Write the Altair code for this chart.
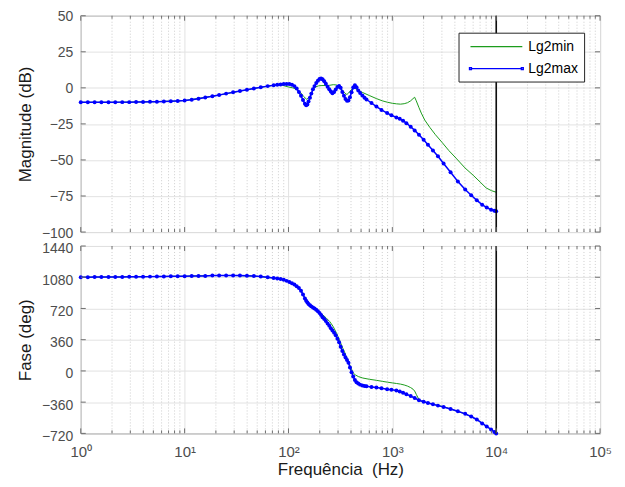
import altair as alt
import pandas as pd

# ---------------- data ----------------
freq_max = [1.00, 1.17, 1.36, 1.58, 1.85, 2.15, 2.51, 2.93, 3.41, 3.98, 4.64, 5.41, 6.31, 7.36, 8.58,
            10.0, 11.7, 13.6, 15.8, 18.5, 21.5, 25.1, 29.3, 34.1, 39.8, 46.4, 54.1, 63.1, 72.0, 78.0, 84.0, 90.0, 96.0,
            102, 108, 114, 120, 126, 132, 138, 144, 148, 152, 156, 161, 166, 172, 178, 185, 192, 199, 206, 213,
            221, 229, 238, 247, 256, 265, 275, 285, 296, 307, 318, 330, 342, 354, 366, 378, 391, 405, 420, 436,
            452, 470, 490, 515, 540,
            564, 630, 703, 786, 891, 980, 1094, 1178, 1268, 1366, 1502, 1641, 1805, 2001, 2202, 2461, 2750, 3115,
            3637, 4276, 5031, 5745, 6505, 7326, 8107, 8930, 9607, 10000]
mag_max = [-10.0, -10.0, -10.0, -10.0, -10.0, -10.0, -9.9, -9.9, -9.8, -9.8, -9.7, -9.6, -9.5, -9.3, -9.1,
           -8.8, -8.3, -7.5, -6.7, -5.8, -4.9, -4.0, -3.1, -2.2, -1.3, -0.4, 0.4, 1.2, 1.8, 2.1, 2.4, 2.6, 2.7,
           2.6, 2.2, 1.2, -0.5, -2.8, -5.5, -8.5, -11.0, -12.0, -11.5, -9.5, -6.9, -4.0, -1.0, 1.2, 3.3, 5.0, 6.2, 6.5, 6.0,
           4.5, 2.8, 0.8, -1.0, -2.5, -3.8, -2.8, -1.2, 0.6, 1.3, 0.0, -2.8, -5.5, -7.8, -9.0, -8.8, -6.5, -3.0, 0.2, 1.8,
           0.5, -1.8, -3.6, -5.3, -6.8,
           -8.1, -10.5, -13.0, -15.3, -17.5, -19.0, -20.5, -21.5, -22.8, -24.5, -27.0, -29.5, -32.5, -36.0, -39.5, -43.5,
           -47.5, -52.5, -58.5, -65.0, -70.5, -74.5, -78.0, -81.0, -83.0, -84.5, -85.2, -85.5]
phase_max = [1081, 1081, 1082, 1082, 1083, 1083, 1084, 1085, 1085, 1086, 1087, 1088, 1089, 1090, 1091,
             1092, 1093, 1094, 1095, 1099, 1100, 1101, 1100, 1099, 1097, 1094, 1089, 1080, 1071, 1066, 1060, 1050, 1038,
             1025, 1010, 995, 975, 955, 925, 880, 835, 810, 790, 772, 756, 744, 732, 720, 705, 688, 668, 645, 620,
             598, 575, 548, 520, 492, 465, 440, 410, 370, 330, 280, 230, 190, 155, 125, 95, 40, -15, -65, -105,
             -130, -145, -158, -168, -174,
             -178, -184, -192, -200, -210, -216, -225, -238, -252, -268, -290, -312, -338, -356, -370, -385, -400, -415,
             -438, -465, -495, -525, -560, -605, -640, -675, -705, -720]

freq_min = [1, 2, 5, 10, 20, 30, 50, 70, 85, 100, 110, 120, 130, 140, 150, 160, 170, 180, 195, 210,
            230, 250, 270, 290, 310, 330, 350, 365, 380, 400, 420, 440, 470, 520, 600, 700, 800, 900, 1000, 1100,
            1200, 1300, 1400, 1500, 1580, 1640, 1700, 1800, 1900, 2050, 2300, 2600, 3000, 3500, 4100, 5000, 6000,
            7000, 8000, 9000, 10000]
mag_min = [-10.0, -10.0, -9.65, -8.8, -5.4, -3.0, 0.0, 1.6, 2.0, 0.6, 0.0, -1.0, -3.0, -6.0, -8.0, -6.0, -2.5, 0.5, 1.4, 1.6,
           1.6, 1.8, 2.2, 2.0, 0.5, -1.5, -3.8, -4.6, -3.5, -1.5, -0.3, -0.5, -1.8, -3.3, -5.3, -7.4, -9.0, -10.0, -10.7, -11.1,
           -11.3, -11.0, -10.3, -9.0, -7.5, -6.5, -9.0, -13.5, -17.5, -22.3, -27.5, -32.5, -37.7, -43.5, -48.7, -55.5, -60.6,
           -65.3, -69.4, -71.3, -72.4]
phase_min = [1081, 1083, 1088, 1092, 1100, 1100, 1090, 1071, 1055, 1030, 1005, 978, 940, 870, 805, 762, 738, 718, 688, 655,
             612, 568, 510, 435, 355, 275, 205, 150, 100, 35, -25, -45, -65, -82, -96, -108, -120, -130, -138, -145,
             -152, -162, -175, -192, -210, -232, -270, -328, -348, -359, -374, -391, -408, -432, -460, -495, -540,
             -585, -637, -678, -720]

series_names = ["Lg2min", "Lg2max"]
series_colors = ["#1c9c1c", "#0000ff"]
x_major = [1, 10, 100, 1000, 10000, 100000]
x_minor = [m * d for d in [1, 10, 100, 1000, 10000] for m in range(2, 10)]
mag_ticks = [-100, -75, -50, -25, 0, 25, 50]
phase_ticks = [-720, -360, 0, 360, 720, 1080, 1440]
vline_freq = [10000]

# ---------------- chart ----------------
W = 521
H1, H2 = 217, 188
FONT = "Liberation Sans"

df_max = pd.DataFrame({"f": freq_max, "mag": mag_max, "phase": phase_max})
df_min = pd.DataFrame({"f": freq_min, "mag": mag_min, "phase": phase_min})
df_major = pd.DataFrame({"f": x_major})
df_minor = pd.DataFrame({"f": x_minor})
df_vline = pd.DataFrame({"f": vline_freq})
df_series = pd.DataFrame({"series": series_names})

xscale = alt.Scale(type="log", domain=[1, 100000], nice=False)

line_path = "M-0.286,0H7.143"
dot_path = line_path + "M-0.43,-0.143h0.286v0.286h-0.286zM7.0,-0.143h0.286v0.286h-0.286z"
series_shapes = [line_path, dot_path]

sup_expr = "'10' + ['\u2070','\u00b9','\u00b2','\u00b3','\u2074','\u2075'][round(log(datum.value)/LN10)]"


def panel(field, ydomain, yticks, height, ytitle, bottom, legend, loff):
    yscale = alt.Scale(domain=ydomain, nice=False, zero=False)
    yaxis = alt.Axis(values=yticks, title=ytitle, format="d", grid=True, gridColor="#e2e2e2", ticks=False,
                     domain=False, labelPadding=8, labelOffset=loff, labelFontSize=14, labelColor="#4d4d4d",
                     titleFontSize=17, titleFontWeight="normal", titleColor="#1a1a1a",
                     titleX=-55, titleY=height / 2, titleBaseline="middle", titleAlign="center")
    if bottom:
        xaxis = alt.Axis(values=x_major, title="Frequ\u00eancia\u00a0 (Hz)", labelExpr=sup_expr, grid=True,
                         gridColor="#e2e2e2", ticks=False, domain=False, labelPadding=11, labelFlush=False,
                         labelFontSize=15, labelColor="#4d4d4d", titleFontSize=17, titleFontWeight="normal",
                         titleColor="#1a1a1a", titleY=36, titleBaseline="middle")
    else:
        xaxis = alt.Axis(values=x_major, title=None, labels=False, grid=True, gridColor="#e2e2e2",
                         ticks=False, domain=False)
    X = alt.X("f:Q", scale=xscale, axis=xaxis)
    Y = alt.Y(f"{field}:Q", scale=yscale, axis=yaxis)

    minor_grid = alt.Chart(df_minor).mark_rule(color="#cdcdcd", strokeDash=[1, 2], strokeWidth=1).encode(x=X)
    green = alt.Chart(df_min).mark_line(color=series_colors[0], strokeWidth=1).encode(x=X, y=Y)
    blue = alt.Chart(df_max).mark_line(color=series_colors[1], strokeWidth=1.5).encode(x=X, y=Y)
    blue_pts = alt.Chart(df_max).mark_circle(color=series_colors[1], size=16, opacity=1).encode(x=X, y=Y)
    vline = alt.Chart(df_vline).mark_rule(color="black", strokeWidth=1.5).encode(x=X)

    tick_col = "#6e6e6e"
    xt = []
    for dfx, ln in ((df_major, 5), (df_minor, 3)):
        xt.append(alt.Chart(dfx).mark_rule(color=tick_col).encode(x=X, y=alt.value(0), y2=alt.value(ln)))
        xt.append(alt.Chart(dfx).mark_rule(color=tick_col).encode(x=X, y=alt.value(height), y2=alt.value(height - ln)))
    df_yt = pd.DataFrame({field: yticks})
    yt = [
        alt.Chart(df_yt).mark_rule(color=tick_col).encode(y=Y, x=alt.value(0), x2=alt.value(5)),
        alt.Chart(df_yt).mark_rule(color=tick_col).encode(y=Y, x=alt.value(W - 5), x2=alt.value(W)),
    ]

    layers = [minor_grid, green, blue, blue_pts, vline] + xt + yt
    if legend:
        leg = alt.Legend(title=None, orient="none", legendX=379, legendY=17, padding=6, rowPadding=7,
                         fillColor="white", strokeColor="#262626", cornerRadius=0,
                         symbolSize=196, symbolStrokeWidth=1.3, symbolOpacity=1,
                         labelOffset=48, labelFontSize=14, labelColor="black", labelFont=FONT)
        legend_layer = alt.Chart(df_series).mark_point(opacity=0, filled=False, strokeWidth=1.3).encode(
            color=alt.Color("series:N", scale=alt.Scale(domain=series_names, range=series_colors), legend=leg),
            shape=alt.Shape("series:N", scale=alt.Scale(domain=series_names, range=series_shapes), legend=leg),
        )
        layers.append(legend_layer)
    return alt.layer(*layers).properties(width=W, height=height)


top = panel("mag", [-100, 50], mag_ticks, H1, "Magnitude (dB)", False, True, 1)
bot = panel("phase", [-720, 1440], phase_ticks, H2, "Fase (deg)", True, False, 3)

chart = alt.vconcat(top, bot, spacing=14, bounds="flush").properties(
    padding={"left": 8, "top": 0, "right": 5, "bottom": 5}
).configure(font=FONT).configure_view(stroke="#6e6e6e", strokeWidth=1)

chart.save("out.html", embed_options={"renderer": "svg", "actions": False})
